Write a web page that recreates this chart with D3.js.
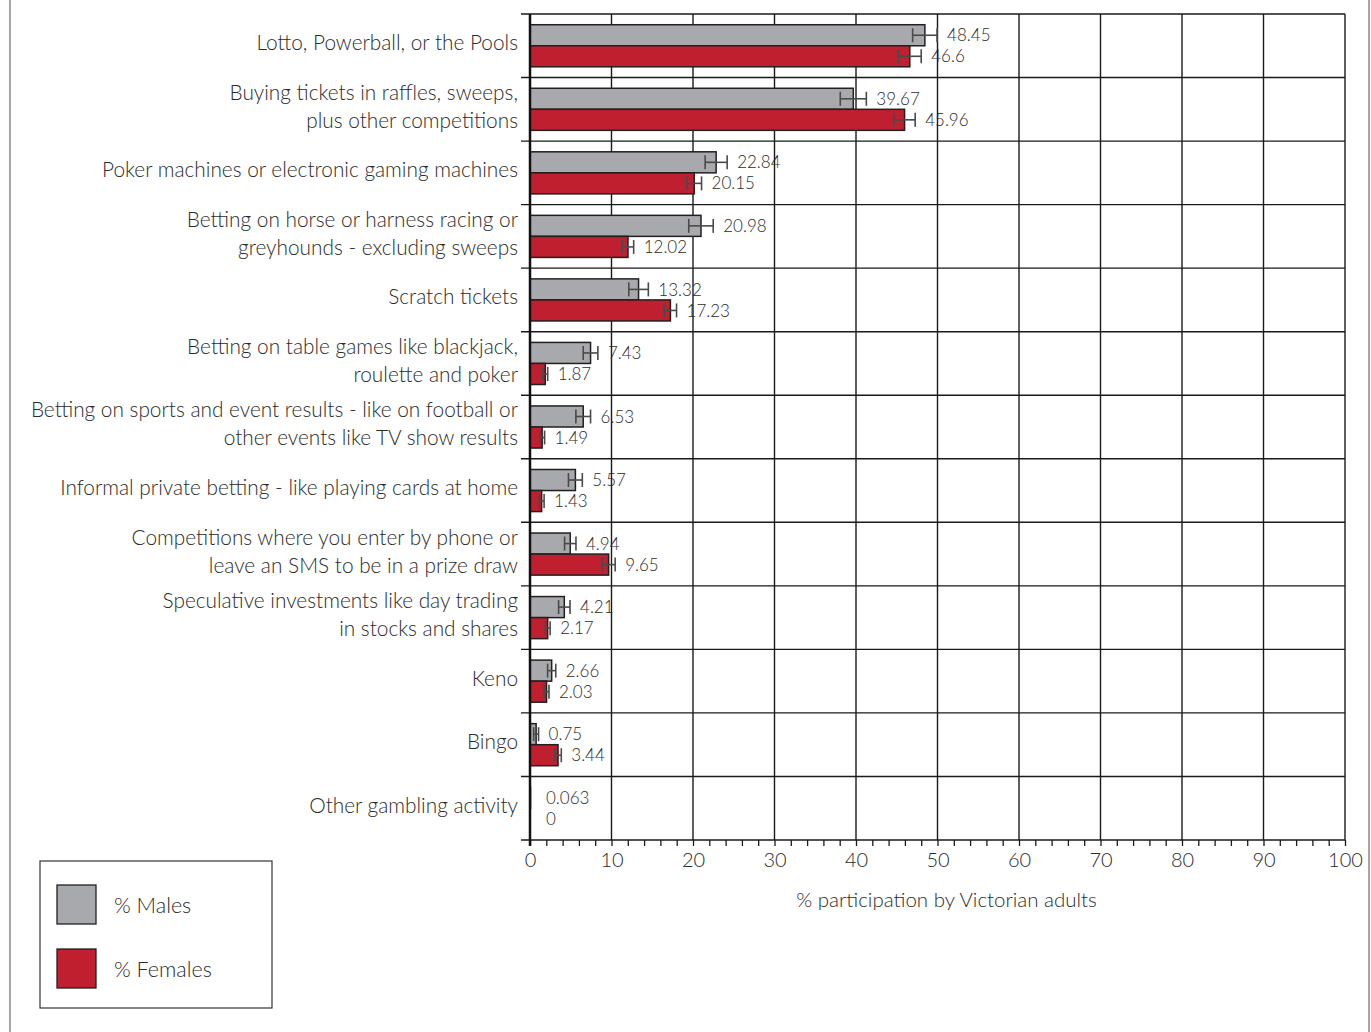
<!DOCTYPE html>
<html>
<head>
<meta charset="utf-8">
<script src="https://cdn.jsdelivr.net/npm/d3@7"></script>
<style>
  body { margin: 0; background: #fff; }
  text { font-family: "Lato", "Open Sans", sans-serif; font-weight: 300; fill: #2b2b2b; }
</style>
</head>
<body>
<script>
// categories, each entry is the lines of its label
const categories = [
  ['Lotto, Powerball, or the Pools'],
  ['Buying tickets in raffles, sweeps,', 'plus other competitions'],
  ['Poker machines or electronic gaming machines'],
  ['Betting on horse or harness racing or', 'greyhounds - excluding sweeps'],
  ['Scratch tickets'],
  ['Betting on table games like blackjack,', 'roulette and poker'],
  ['Betting on sports and event results - like on football or', 'other events like TV show results'],
  ['Informal private betting - like playing cards at home'],
  ['Competitions where you enter by phone or', 'leave an SMS to be in a prize draw'],
  ['Speculative investments like day trading', 'in stocks and shares'],
  ['Keno'],
  ['Bingo'],
  ['Other gambling activity']
];
const males   = [48.45, 39.67, 22.84, 20.98, 13.32, 7.43, 6.53, 5.57, 4.94, 4.21, 2.66, 0.75, 0.063];
const females = [46.6, 45.96, 20.15, 12.02, 17.23, 1.87, 1.49, 1.43, 9.65, 2.17, 2.03, 3.44, 0];
const malesErr   = [1.5, 1.6, 1.35, 1.5, 1.2, 0.9, 0.9, 0.85, 0.7, 0.7, 0.5, 0.3, 0];
const femalesErr = [1.4, 1.3, 0.9, 0.7, 0.75, 0.3, 0.3, 0.3, 0.8, 0.3, 0.3, 0.4, 0];
const seriesNames = ['% Males', '% Females'];
const colors = ['#a7a9ac', '#c01f30'];
const xTicks = d3.range(0, 101, 10);
const xLabel = '% participation by Victorian adults';

const [w, h] = [1371, 1032];
const [pLeft, pRight, pTop, pBottom] = [530, 1345, 14, 840];

const svg = d3.select('body').append('svg')
  .attr('width', w)
  .attr('height', h);

// page border lines
svg.append('line').attr('x1', 10).attr('x2', 10).attr('y1', 0).attr('y2', h)
  .attr('stroke', '#888').attr('stroke-width', 1.5);
svg.append('line').attr('x1', 1369).attr('x2', 1369).attr('y1', 0).attr('y2', h)
  .attr('stroke', '#888').attr('stroke-width', 1.5);

const x = d3.scaleLinear().domain([0, 100]).range([pLeft, pRight]);
const y = d3.scaleBand().domain(d3.range(categories.length)).range([pTop, pBottom]);
const sub = d3.scaleBand().domain([0, 1]).range([0, y.bandwidth()]).paddingOuter(0.51);

// vertical grid
svg.append('g').selectAll('line')
  .data(xTicks.slice(1))
  .join('line')
  .attr('x1', d => x(d)).attr('x2', d => x(d))
  .attr('y1', pTop).attr('y2', pBottom)
  .attr('stroke', '#1a1a1a').attr('stroke-width', 1.4);

// horizontal category lines
svg.append('g').selectAll('line')
  .data(d3.range(categories.length + 1))
  .join('line')
  .attr('x1', pLeft - 9).attr('x2', pRight)
  .attr('y1', d => pTop + d * y.step()).attr('y2', d => pTop + d * y.step())
  .attr('stroke', '#1a1a1a').attr('stroke-width', 1.4);

// x axis
const xAxis = d3.axisBottom(x)
  .tickValues(d3.range(0, 101, 2))
  .tickSize(6)
  .tickFormat(d => d % 10 === 0 ? d : '');
const ax = svg.append('g')
  .attr('transform', `translate(0, ${pBottom})`)
  .call(xAxis);
ax.select('.domain').remove();
ax.selectAll('.tick line').attr('stroke', '#1a1a1a').attr('stroke-width', 1.3);
ax.selectAll('.tick text')
  .attr('y', 13)
  .style('font-family', 'Lato, sans-serif')
  .style('font-weight', 300)
  .style('font-size', '20px')
  .attr('fill', '#2b2b2b');

svg.append('text')
  .attr('x', (pLeft + pRight) / 2 + 9)
  .attr('y', 907)
  .attr('text-anchor', 'middle')
  .attr('font-size', '20.5px')
  .text(xLabel);

// bars
const rows = categories.map((c, i) => [
  { i, s: 0, v: males[i], e: malesErr[i] },
  { i, s: 1, v: females[i], e: femalesErr[i] }
]).flat();

const barG = svg.append('g');
barG.selectAll('rect')
  .data(rows.filter(d => d.v > 0))
  .join('rect')
  .attr('x', x(0))
  .attr('y', d => y(d.i) + sub(d.s))
  .attr('width', d => x(d.v) - x(0))
  .attr('height', sub.bandwidth())
  .attr('fill', d => colors[d.s])
  .attr('stroke', '#231f20')
  .attr('stroke-width', 1.5);

// error bars
const errG = svg.append('g')
  .attr('stroke', '#4a4a4a')
  .attr('stroke-width', 1.6);
rows.filter(d => d.e > 0).forEach(d => {
  const cy = y(d.i) + sub(d.s) + sub.bandwidth() / 2;
  const x0 = x(d.v - d.e), x1 = x(d.v + d.e);
  errG.append('line').attr('x1', x0).attr('x2', x1).attr('y1', cy).attr('y2', cy);
  errG.append('line').attr('x1', x0).attr('x2', x0).attr('y1', cy - 7).attr('y2', cy + 7);
  errG.append('line').attr('x1', x1).attr('x2', x1).attr('y1', cy - 7).attr('y2', cy + 7);
});

// value labels
svg.append('g').selectAll('text')
  .data(rows)
  .join('text')
  .attr('x', d => Math.max(x(d.v + d.e) + 10, x(0) + 16))
  .attr('y', d => y(d.i) + sub(d.s) + sub.bandwidth() / 2)
  .attr('dy', '0.36em')
  .attr('font-size', '17px')
  .text(d => d.v);

// left axis line
svg.append('line')
  .attr('x1', pLeft).attr('x2', pLeft)
  .attr('y1', pTop).attr('y2', pBottom + 6)
  .attr('stroke', '#111').attr('stroke-width', 2.5);

// category labels
const catG = svg.append('g');
categories.forEach((lines, i) => {
  const cy = y(i) + y.bandwidth() / 2;
  const t = catG.append('text')
    .attr('text-anchor', 'end')
    .attr('font-size', '20.8px');
  lines.forEach((ln, k) => {
    t.append('tspan')
      .attr('x', pLeft - 12)
      .attr('y', cy + (k - (lines.length - 1) / 2) * 28 - 3)
      .attr('dy', '0.36em')
      .text(ln);
  });
});

// legend
const lg = svg.append('g');
lg.append('rect')
  .attr('x', 40).attr('y', 861).attr('width', 232).attr('height', 147)
  .attr('fill', 'none').attr('stroke', '#333').attr('stroke-width', 1.2);
seriesNames.forEach((n, k) => {
  lg.append('rect')
    .attr('x', 57).attr('y', 885 + k * 64).attr('width', 39).attr('height', 39)
    .attr('fill', colors[k]).attr('stroke', '#231f20').attr('stroke-width', 1.3);
  lg.append('text')
    .attr('x', 114).attr('y', 905 + k * 64)
    .attr('dy', '0.36em')
    .attr('font-size', '21.5px')
    .text(n);
});
</script>
</body>
</html>
